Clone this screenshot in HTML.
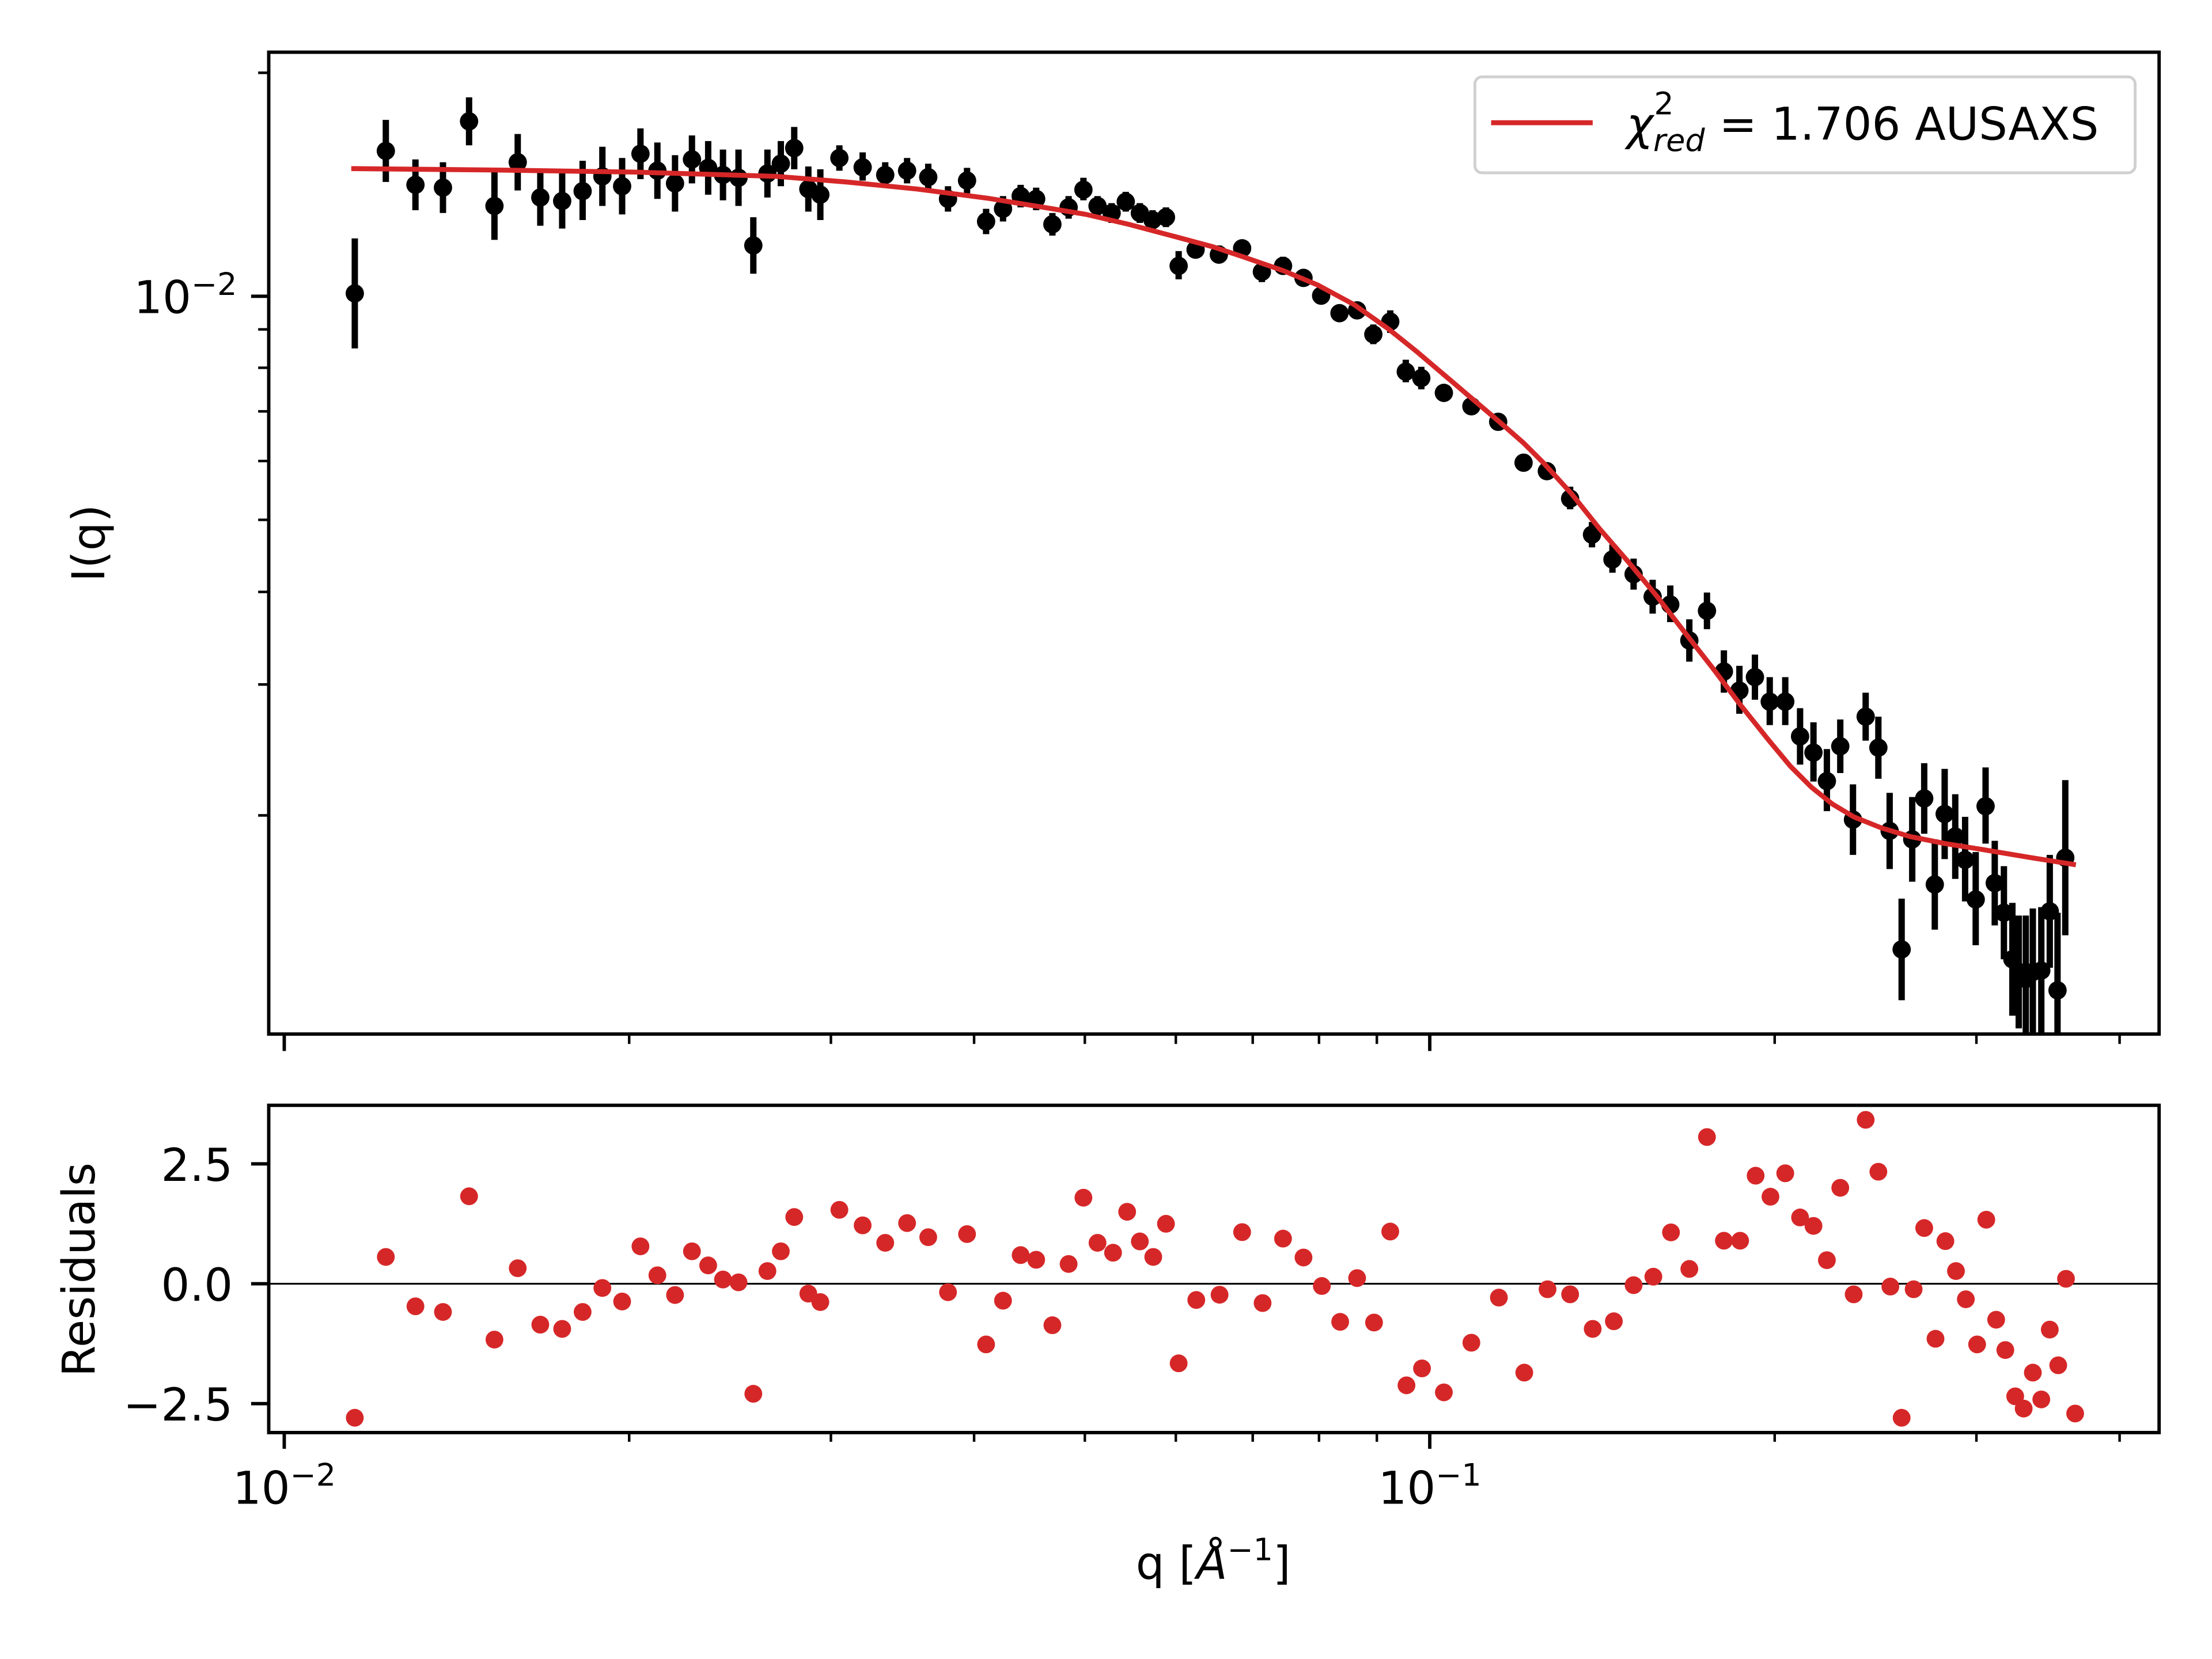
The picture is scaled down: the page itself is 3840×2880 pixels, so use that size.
<!DOCTYPE html>
<html><head><meta charset="utf-8"><style>
html,body{margin:0;padding:0;background:#fff;}
svg{display:block;}
text{font-family:"DejaVu Sans","Liberation Sans",sans-serif;fill:#000;}
</style></head><body>
<svg width="3840" height="2880" viewBox="0 0 1568 1176" xmlns="http://www.w3.org/2000/svg">
<defs><clipPath id="c1"><rect x="191" y="38" width="1339" height="694"/></clipPath></defs>
<rect width="1568" height="1176" fill="#fff"/>
<g clip-path="url(#c1)">
<path fill="none" stroke="#000" stroke-width="4.5" d="
M251.5,169V247 M273.5,85V129 M294.5,113V149 M314,115V151 M332.5,69V103 M350.5,122V170 M367,95V135 M383,120V160 M398.5,122V162 M413,114V156 M427,104V146 M441,112V152 M454,91V127 M466,101V141 M478.5,110V150 M490.5,96V130 M502,100V138 M512.5,106V142 M523.5,106V146 M534,154V194 M544,106V140 M553.5,100V132 M563,90V120 M573,118V150 M581.5,120V156 M595,103V121 M611.5,108V128 M627.5,115V133 M643,112V130 M658,116V134 M672,132V150 M685.5,119V137 M699,148V166 M711,139V157 M723.5,131V147 M734.5,133V149 M746,151V167 M757.5,139V155 M768,126V142 M778,139V153 M788,144V158 M798,136V150 M808,144V158 M817,149V163 M826.5,147V161 M835.5,178V198 M847.5,171V183 M864,174V186 M880.5,170V182 M894.5,186V200 M909.5,182V194 M924,191V203 M936.5,203V215 M949.5,216V228 M962,214V226 M973.5,230V244 M985.5,220V236 M996.5,255V271 M1007.5,260V276 M1023.5,273V284 M1043,283V293 M1062,294V304 M1080,323V333 M1096.5,328V340 M1113,345V361 M1128.5,370V388 M1143,386V406 M1158,396V418 M1171.5,411V435 M1184,415V441 M1197.5,439V469 M1210,420V446 M1222,461V491 M1233,472V506 M1244,464V496 M1254.5,480V514 M1265.5,480V514 M1276,502V542 M1285.5,512V554 M1295,531V575 M1304.5,510V548 M1313.5,556V606 M1322.5,491V525 M1331.5,508V552 M1339.5,562V616 M1348,637V709 M1355.5,565V625 M1364,541V591 M1371.5,595V659 M1378.5,545V609 M1386,563V623 M1393,579V639 M1400.5,604V670 M1407.5,544V598 M1414,596V656 M1420.5,614V680 M1426.5,640V720 M1431,649V729 M1436,649V739 M1441,644V734 M1447,643V733 M1453,606V686 M1458.5,647V757 M1464,553V663"/>
<g fill="#000">
<circle cx="251.5" cy="208" r="6.5"/><circle cx="273.5" cy="107" r="6.5"/><circle cx="294.5" cy="131" r="6.5"/><circle cx="314" cy="133" r="6.5"/><circle cx="332.5" cy="86" r="6.5"/><circle cx="350.5" cy="146" r="6.5"/><circle cx="367" cy="115" r="6.5"/><circle cx="383" cy="140" r="6.5"/><circle cx="398.5" cy="142.5" r="6.5"/><circle cx="413" cy="135.5" r="6.5"/><circle cx="427" cy="125" r="6.5"/><circle cx="441" cy="132" r="6.5"/><circle cx="454" cy="109" r="6.5"/><circle cx="466" cy="121" r="6.5"/><circle cx="478.5" cy="130" r="6.5"/><circle cx="490.5" cy="113" r="6.5"/><circle cx="502" cy="119" r="6.5"/><circle cx="512.5" cy="124" r="6.5"/><circle cx="523.5" cy="126" r="6.5"/><circle cx="534" cy="174" r="6.5"/><circle cx="544" cy="123" r="6.5"/><circle cx="553.5" cy="116" r="6.5"/><circle cx="563" cy="105" r="6.5"/><circle cx="573" cy="134" r="6.5"/><circle cx="581.5" cy="138" r="6.5"/><circle cx="595" cy="112" r="6.5"/><circle cx="611.5" cy="118.6" r="6.5"/><circle cx="627.5" cy="124" r="6.5"/><circle cx="643" cy="121" r="6.5"/><circle cx="658" cy="125.6" r="6.5"/><circle cx="672" cy="141" r="6.5"/><circle cx="685.5" cy="128" r="6.5"/><circle cx="699" cy="157" r="6.5"/><circle cx="711" cy="148" r="6.5"/><circle cx="723.5" cy="139" r="6.5"/><circle cx="734.5" cy="141" r="6.5"/><circle cx="746" cy="159" r="6.5"/><circle cx="757.5" cy="147" r="6.5"/><circle cx="768" cy="134.5" r="6.5"/><circle cx="778" cy="146" r="6.5"/><circle cx="788" cy="151" r="6.5"/><circle cx="798" cy="143" r="6.5"/><circle cx="808" cy="151" r="6.5"/><circle cx="817" cy="156" r="6.5"/><circle cx="826.5" cy="154" r="6.5"/><circle cx="835.5" cy="188.5" r="6.5"/><circle cx="847.5" cy="177" r="6.5"/><circle cx="864" cy="180.5" r="6.5"/><circle cx="880.5" cy="176" r="6.5"/><circle cx="894.5" cy="192.7" r="6.5"/><circle cx="909.5" cy="188.5" r="6.5"/><circle cx="924" cy="197" r="6.5"/><circle cx="936.5" cy="209.6" r="6.5"/><circle cx="949.5" cy="222" r="6.5"/><circle cx="962" cy="220" r="6.5"/><circle cx="973.5" cy="237" r="6.5"/><circle cx="985.5" cy="228" r="6.5"/><circle cx="996.5" cy="263.5" r="6.5"/><circle cx="1007.5" cy="268" r="6.5"/><circle cx="1023.5" cy="278.5" r="6.5"/><circle cx="1043" cy="288" r="6.5"/><circle cx="1062" cy="299" r="6.5"/><circle cx="1080" cy="328" r="6.5"/><circle cx="1096.5" cy="334" r="6.5"/><circle cx="1113" cy="353.5" r="6.5"/><circle cx="1128.5" cy="379" r="6.5"/><circle cx="1143" cy="396.6" r="6.5"/><circle cx="1158" cy="407" r="6.5"/><circle cx="1171.5" cy="423" r="6.5"/><circle cx="1184" cy="428.5" r="6.5"/><circle cx="1197.5" cy="454" r="6.5"/><circle cx="1210" cy="433" r="6.5"/><circle cx="1222" cy="476" r="6.5"/><circle cx="1233" cy="489.5" r="6.5"/><circle cx="1244" cy="480" r="6.5"/><circle cx="1254.5" cy="497.4" r="6.5"/><circle cx="1265.5" cy="497.4" r="6.5"/><circle cx="1276" cy="522" r="6.5"/><circle cx="1285.5" cy="533.5" r="6.5"/><circle cx="1295" cy="553.7" r="6.5"/><circle cx="1304.5" cy="529" r="6.5"/><circle cx="1313.5" cy="581" r="6.5"/><circle cx="1322.5" cy="508" r="6.5"/><circle cx="1331.5" cy="530" r="6.5"/><circle cx="1339.5" cy="589" r="6.5"/><circle cx="1348" cy="673" r="6.5"/><circle cx="1355.5" cy="595" r="6.5"/><circle cx="1364" cy="566" r="6.5"/><circle cx="1371.5" cy="627" r="6.5"/><circle cx="1378.5" cy="577" r="6.5"/><circle cx="1386" cy="593" r="6.5"/><circle cx="1393" cy="609.5" r="6.5"/><circle cx="1400.5" cy="637.6" r="6.5"/><circle cx="1407.5" cy="571.5" r="6.5"/><circle cx="1414" cy="626" r="6.5"/><circle cx="1420.5" cy="647" r="6.5"/><circle cx="1426.5" cy="680" r="6.5"/><circle cx="1431" cy="689" r="6.5"/><circle cx="1436" cy="694" r="6.5"/><circle cx="1441" cy="689" r="6.5"/><circle cx="1447" cy="688" r="6.5"/><circle cx="1453" cy="646" r="6.5"/><circle cx="1458.5" cy="702" r="6.5"/><circle cx="1464" cy="608" r="6.5"/>
</g>
</g>
<polyline fill="none" stroke="#d62728" stroke-width="3.5" stroke-linejoin="round" points="249,119.5 350,120.5 450,122 550,125 600,129 650,134 700,140.5 740,147 770,152 800,159 834,168 860,175 884,183 910,192 934,202 960,216 984,233 1004,249 1024,266 1044,283 1064,300 1080,314 1094,328 1114,350 1134,375 1154,398 1174,422 1194,448 1214,473.5 1234,500 1254,525 1269,543 1284,558 1299,570 1314,579 1334,587 1354,593 1379,598 1404,602 1440,608 1471.5,613"/>
<rect x="1045.5" y="54.5" width="468" height="68" rx="5" fill="#fff" fill-opacity="0.8" stroke="#d0d0d0" stroke-width="2"/>
<line x1="1057" y1="87" x2="1129" y2="87" stroke="#d62728" stroke-width="3.5"/>
<text x="1153" y="99" font-size="32"><tspan font-style="italic">χ</tspan><tspan font-size="22" font-style="italic" dy="8">red</tspan><tspan font-size="22" dx="-36" dy="-26">2</tspan><tspan dx="22" dy="18"> = 1.706 AUSAXS</tspan></text>
<rect x="190.5" y="37" width="1340" height="696" fill="none" stroke="#000" stroke-width="2.4"/>
<path stroke="#000" stroke-width="1.8" fill="none" d="M190,51.6H183 M190,233.5H183 M190,260.7H183 M190,291.6H183 M190,326.8H183 M190,368.5H183 M190,419.6H183 M190,485.2H183 M190,578H183"/>
<path stroke="#000" stroke-width="2.4" fill="none" d="M190,210H178"/>
<text x="168" y="222" font-size="32" text-anchor="end">10<tspan font-size="22" dy="-13">−2</tspan></text>
<path stroke="#000" stroke-width="2.4" fill="none" d="M201.5,733V745 M1013.5,733V745"/>
<path stroke="#000" stroke-width="1.8" fill="none" d="M446,733V740 M589,733V740 M690.5,733V740 M769,733V740 M833.5,733V740 M888,733V740 M935,733V740 M976,733V740 M1258,733V740 M1401,733V740 M1502.5,733V740"/>
<text transform="translate(74,385) rotate(-90)" font-size="32" text-anchor="middle">I(q)</text>
<line x1="190" y1="910" x2="1530" y2="910" stroke="#000" stroke-width="1.3"/>
<g fill="#d62728">
<circle cx="251.5" cy="1005" r="6.3"/><circle cx="273.5" cy="891" r="6.3"/><circle cx="294.5" cy="926" r="6.3"/><circle cx="314" cy="930" r="6.3"/><circle cx="332.5" cy="848" r="6.3"/><circle cx="350.5" cy="949.6" r="6.3"/><circle cx="367" cy="899" r="6.3"/><circle cx="383" cy="939" r="6.3"/><circle cx="398.5" cy="942" r="6.3"/><circle cx="413" cy="930" r="6.3"/><circle cx="427" cy="913" r="6.3"/><circle cx="441" cy="922.6" r="6.3"/><circle cx="454" cy="883.5" r="6.3"/><circle cx="466" cy="904" r="6.3"/><circle cx="478.5" cy="918" r="6.3"/><circle cx="490.5" cy="887" r="6.3"/><circle cx="502" cy="897" r="6.3"/><circle cx="512.5" cy="907" r="6.3"/><circle cx="523.5" cy="909" r="6.3"/><circle cx="534" cy="988" r="6.3"/><circle cx="544" cy="901" r="6.3"/><circle cx="553.5" cy="887" r="6.3"/><circle cx="563" cy="862.7" r="6.3"/><circle cx="573" cy="917" r="6.3"/><circle cx="581.5" cy="923" r="6.3"/><circle cx="595" cy="857.6" r="6.3"/><circle cx="611.5" cy="868.6" r="6.3"/><circle cx="627.5" cy="881" r="6.3"/><circle cx="643" cy="867" r="6.3"/><circle cx="658" cy="877" r="6.3"/><circle cx="672" cy="916" r="6.3"/><circle cx="685.5" cy="874.8" r="6.3"/><circle cx="699" cy="953" r="6.3"/><circle cx="711" cy="922" r="6.3"/><circle cx="723.5" cy="889.7" r="6.3"/><circle cx="734.5" cy="893" r="6.3"/><circle cx="746" cy="939.4" r="6.3"/><circle cx="757.5" cy="896" r="6.3"/><circle cx="768" cy="849" r="6.3"/><circle cx="778" cy="881" r="6.3"/><circle cx="789" cy="888" r="6.3"/><circle cx="799" cy="859" r="6.3"/><circle cx="808" cy="880" r="6.3"/><circle cx="817.5" cy="891" r="6.3"/><circle cx="826.5" cy="867.5" r="6.3"/><circle cx="835.5" cy="966.4" r="6.3"/><circle cx="848" cy="921.5" r="6.3"/><circle cx="864.5" cy="917.8" r="6.3"/><circle cx="880.5" cy="873.4" r="6.3"/><circle cx="895" cy="923.7" r="6.3"/><circle cx="909.5" cy="878" r="6.3"/><circle cx="924" cy="891.4" r="6.3"/><circle cx="937" cy="911.6" r="6.3"/><circle cx="950" cy="937" r="6.3"/><circle cx="962" cy="906" r="6.3"/><circle cx="974" cy="937.5" r="6.3"/><circle cx="985.5" cy="873" r="6.3"/><circle cx="997" cy="982" r="6.3"/><circle cx="1008" cy="970" r="6.3"/><circle cx="1023.5" cy="987" r="6.3"/><circle cx="1043" cy="951.8" r="6.3"/><circle cx="1062.5" cy="919.8" r="6.3"/><circle cx="1080.5" cy="973" r="6.3"/><circle cx="1097" cy="913.9" r="6.3"/><circle cx="1113" cy="917.5" r="6.3"/><circle cx="1129" cy="942" r="6.3"/><circle cx="1144" cy="936.6" r="6.3"/><circle cx="1158" cy="911" r="6.3"/><circle cx="1172" cy="905" r="6.3"/><circle cx="1184.5" cy="873.6" r="6.3"/><circle cx="1197.5" cy="899.5" r="6.3"/><circle cx="1210" cy="806" r="6.3"/><circle cx="1222" cy="879.5" r="6.3"/><circle cx="1233.5" cy="879.5" r="6.3"/><circle cx="1244.5" cy="833.4" r="6.3"/><circle cx="1255" cy="848.3" r="6.3"/><circle cx="1265.5" cy="831.7" r="6.3"/><circle cx="1276" cy="863" r="6.3"/><circle cx="1285.5" cy="869" r="6.3"/><circle cx="1295" cy="893.3" r="6.3"/><circle cx="1304.5" cy="842" r="6.3"/><circle cx="1314" cy="917.5" r="6.3"/><circle cx="1322.5" cy="793.8" r="6.3"/><circle cx="1331.5" cy="830.6" r="6.3"/><circle cx="1340" cy="912" r="6.3"/><circle cx="1348" cy="1005" r="6.3"/><circle cx="1356.5" cy="913.9" r="6.3"/><circle cx="1364" cy="870.5" r="6.3"/><circle cx="1372" cy="949" r="6.3"/><circle cx="1379" cy="879.8" r="6.3"/><circle cx="1386.5" cy="901" r="6.3"/><circle cx="1393.5" cy="921" r="6.3"/><circle cx="1401.5" cy="953" r="6.3"/><circle cx="1408" cy="864.6" r="6.3"/><circle cx="1415" cy="935.5" r="6.3"/><circle cx="1421.5" cy="957" r="6.3"/><circle cx="1428.5" cy="989.8" r="6.3"/><circle cx="1434.5" cy="998.5" r="6.3"/><circle cx="1441" cy="973" r="6.3"/><circle cx="1447" cy="992" r="6.3"/><circle cx="1453" cy="942.5" r="6.3"/><circle cx="1459" cy="967.8" r="6.3"/><circle cx="1464.5" cy="906.5" r="6.3"/><circle cx="1471" cy="1002" r="6.3"/>
</g>
<rect x="190.5" y="783.5" width="1340" height="232" fill="none" stroke="#000" stroke-width="2.4"/>
<path stroke="#000" stroke-width="2.4" fill="none" d="M190,825H178 M190,910H178 M190,995H178 M201.5,1015V1027 M1013.5,1015V1027"/>
<path stroke="#000" stroke-width="1.8" fill="none" d="M446,1015V1022 M589,1015V1022 M690.5,1015V1022 M769,1015V1022 M833.5,1015V1022 M888,1015V1022 M935,1015V1022 M976,1015V1022 M1258,1015V1022 M1401,1015V1022 M1502.5,1015V1022"/>
<g font-size="32" text-anchor="end">
<text x="165" y="837">2.5</text>
<text x="165" y="922">0.0</text>
<text x="165" y="1007">−2.5</text>
</g>
<text x="201.5" y="1066" font-size="32" text-anchor="middle">10<tspan font-size="22" dy="-13">−2</tspan></text>
<text x="1013.5" y="1066" font-size="32" text-anchor="middle">10<tspan font-size="22" dy="-13">−1</tspan></text>
<text transform="translate(67,900) rotate(-90)" font-size="32" text-anchor="middle">Residuals</text>
<text x="860" y="1119" font-size="32" text-anchor="middle">q [<tspan font-style="italic">Å</tspan><tspan font-size="22" dy="-13">−1</tspan><tspan dy="13">]</tspan></text>
</svg>
</body></html>
